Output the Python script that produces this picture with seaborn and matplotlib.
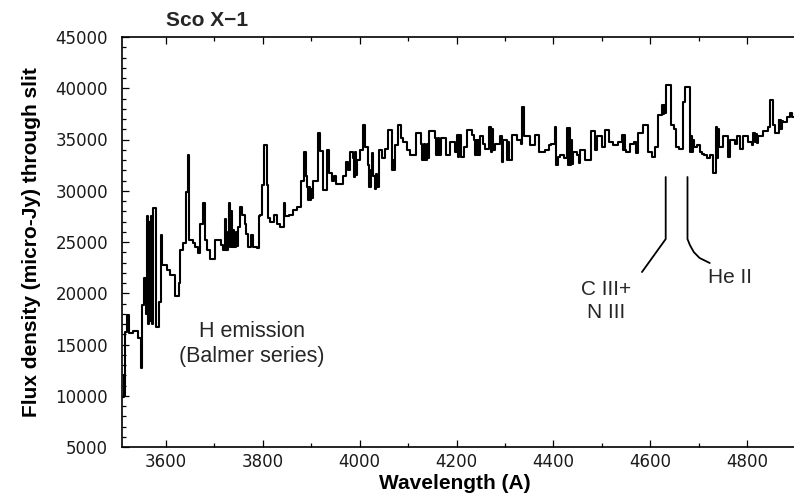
import matplotlib
matplotlib.use("Agg")
import matplotlib.pyplot as plt
import pandas as pd
import seaborn as sns
from matplotlib.ticker import MultipleLocator

# Sco X-1 optical spectrum: left edge of each wavelength bin (Angstrom) and flux (micro-Jy)
wavelength = [
    3512, 3513, 3514, 3516, 3520, 3524, 3532, 3543, 3548, 3551, 3555, 3558,
    3560, 3562, 3564, 3566, 3568, 3570, 3572, 3574, 3580, 3586, 3589, 3591,
    3601, 3608, 3618, 3626, 3629, 3636, 3641, 3645, 3648, 3656, 3660, 3665,
    3671, 3677, 3680, 3684, 3690, 3702, 3713, 3717, 3721, 3724, 3727, 3730,
    3732, 3734, 3736, 3738, 3741, 3744, 3746, 3749, 3752, 3757, 3763, 3765,
    3770, 3775, 3780, 3787, 3791, 3795, 3798, 3803, 3808, 3811, 3815, 3822,
    3829, 3836, 3843, 3846, 3853, 3863, 3870, 3879, 3884, 3889, 3892, 3894,
    3896, 3898, 3900, 3902, 3904, 3913, 3917, 3924, 3932, 3937, 3942, 3946,
    3952, 3966, 3971, 3975, 3979, 3986, 3988, 3990, 3992, 3995, 4001, 4007,
    4011, 4018, 4020, 4023, 4025, 4028, 4031, 4033, 4036, 4039, 4045, 4052,
    4058, 4066, 4069, 4071, 4073, 4079, 4085, 4090, 4097, 4104, 4117, 4126,
    4129, 4132, 4135, 4138, 4141, 4144, 4155, 4158, 4161, 4164, 4167, 4178,
    4187, 4197, 4201, 4204, 4206, 4209, 4215, 4222, 4231, 4236, 4238, 4240,
    4242, 4244, 4246, 4249, 4255, 4259, 4268, 4271, 4273, 4276, 4279, 4290,
    4293, 4295, 4304, 4307, 4309, 4314, 4325, 4333, 4336, 4340, 4352, 4362,
    4370, 4383, 4390, 4396, 4403, 4406, 4410, 4414, 4421, 4428, 4430, 4432,
    4434, 4436, 4438, 4441, 4448, 4452, 4456, 4466, 4477, 4487, 4490, 4500,
    4507, 4514, 4524, 4534, 4541, 4544, 4546, 4548, 4551, 4558, 4566, 4570,
    4575, 4586, 4596, 4603, 4610, 4616, 4624, 4626, 4628, 4630, 4633, 4642,
    4649, 4654, 4660, 4668, 4672, 4682, 4684, 4686, 4688, 4690, 4696, 4703,
    4706, 4712, 4717, 4724, 4729, 4735, 4737, 4739, 4742, 4751, 4761, 4764,
    4775, 4780, 4785, 4792, 4803, 4810, 4813, 4816, 4818, 4820, 4823, 4834,
    4844, 4847, 4853, 4858, 4865, 4867, 4869, 4871, 4873, 4875, 4882, 4889,
    4893,
]
flux = [
    9900, 12000, 10000, 16250, 17900, 16100, 16300, 15600, 12700, 18850, 21500, 18000,
    27500, 17000, 27000, 17300, 27500, 17000, 26800, 28300, 16700, 19100, 25700, 22800,
    22300, 21800, 19700, 21000, 24200, 24900, 29900, 33500, 25200, 24900, 24550, 23900,
    26800, 28800, 25200, 24200, 23300, 25200, 24700, 24200, 27200, 24200, 26000, 28800,
    24500, 28000, 24500, 26200, 24500, 26000, 24600, 26500, 28400, 27600, 26800, 25800,
    24500, 25700, 24500, 24400, 27500, 27600, 30600, 34500, 30600, 27300, 27000, 27600,
    26800, 26500, 28800, 27500, 27600, 28100, 28400, 31000, 33800, 31400, 30400, 29100,
    30400, 29100, 30200, 29300, 31000, 35600, 33900, 30100, 34000, 31700, 31000, 31400,
    30700, 31400, 32800, 32000, 33800, 33200, 31300, 33800, 31500, 33000, 34000, 36400,
    34300, 32500, 30400, 32000, 33700, 31400, 30200, 31600, 30400, 34000, 33200, 34100,
    35900, 32000, 33000, 32000, 34500, 36400, 35100, 34800, 34000, 33500, 35600, 34600,
    33000, 34600, 33000, 34600, 33200, 35800, 35100, 33500, 35100, 33500, 35100, 33500,
    34800, 33800, 35400, 33300, 35400, 33300, 34300, 35900, 35400, 34950, 33500, 34950,
    33500, 34950, 33500, 35300, 34600, 34100, 36250, 33800, 36000, 34000, 34600, 35300,
    32800, 34950, 33000, 34800, 33000, 35400, 34950, 34600, 38200, 35300, 34500, 35400,
    33800, 34000, 34500, 34600, 36250, 32500, 33300, 33500, 33200, 36100, 32500, 36100,
    32500, 35000, 32600, 33800, 33500, 32700, 34000, 33000, 35800, 34000, 35300, 34300,
    35900, 34800, 34500, 34800, 35400, 34000, 35400, 34000, 33800, 34600, 34800, 33700,
    35600, 36400, 33800, 33300, 34300, 37400, 38400, 37500, 38400, 37600, 40300, 36400,
    36000, 34300, 34100, 38700, 40100, 33800, 35300, 33800, 35000, 34300, 34500, 33800,
    33600, 33500, 33200, 33500, 31700, 36250, 33200, 36000, 34300, 35300, 33300, 34950,
    34600, 35300, 34100, 35300, 34800, 34500, 35600, 34800, 35500, 34700, 35300, 35800,
    36250, 38850, 36400, 35600, 36900, 36000, 36900, 36000, 36800, 36700, 37200, 37550,
    37200,
]
wavelength_end = 4900

# Line identifications: marker wavelengths and the flux levels of the leader lines
cn_marker_wave = [4632, 4632, 4583]
cn_marker_flux = [31340, 25290, 22070]
he_marker_wave = [4677, 4677, 4682, 4690, 4702, 4723]
he_marker_flux = [31340, 25290, 24700, 24020, 23440, 22950]

x_ticks = [3600, 3800, 4000, 4200, 4400, 4600, 4800]
y_ticks = [5000, 10000, 15000, 20000, 25000, 30000, 35000, 40000, 45000]

sns.set_theme(style="ticks")
plt.rcParams["font.family"] = ["DejaVu Sans"]
label_font = ["Liberation Sans", "DejaVu Sans"]

fig = plt.figure(figsize=(7.94, 4.99), dpi=100)
ax = fig.add_axes([122 / 794, 1 - 447 / 499, 1 - 122 / 794, 410 / 499])

spec = pd.DataFrame({
    "wavelength": wavelength + [wavelength_end],
    "flux": flux + [flux[-1]],
})
sns.lineplot(data=spec, x="wavelength", y="flux", drawstyle="steps-post",
             estimator=None, color="black", linewidth=1.5, ax=ax)

# leader lines pointing at the two emission features
sns.lineplot(x=cn_marker_wave, y=cn_marker_flux, sort=False, estimator=None,
             color="black", linewidth=1.3, ax=ax)
sns.lineplot(x=he_marker_wave, y=he_marker_flux, sort=False, estimator=None,
             color="black", linewidth=1.3, ax=ax)

ax.set_xlim(3509, 4897)
ax.set_ylim(5000, 45000)
ax.set_xticks(x_ticks)
ax.set_yticks(y_ticks)
ax.xaxis.set_minor_locator(MultipleLocator(100))
ax.yaxis.set_minor_locator(MultipleLocator(1000))
ax.tick_params(which="both", direction="in", top=True, right=False,
               width=0.9, color="black")
ax.tick_params(which="major", length=5)
ax.tick_params(which="minor", length=3)
ax.tick_params(axis="y", labelsize=12, labelcolor="#1a1a1a", pad=10)
ax.tick_params(axis="x", labelsize=12, labelcolor="#1a1a1a", pad=4)
for side in ["left", "bottom", "top"]:
    ax.spines[side].set_color("black")
    ax.spines[side].set_linewidth(1.2)
ax.spines["right"].set_visible(False)

ax.set_xlabel("Wavelength (A)", family=label_font, fontsize=15,
              fontweight="bold", color="black")
ax.set_ylabel("Flux density (micro-Jy) through slit", family=label_font,
              fontsize=15, fontweight="bold", color="black")
ax.xaxis.set_label_coords(0.4955, -0.065)
ax.yaxis.set_label_coords(-0.1205, 0.5)

fig.text(207 / 794, 1 - 21 / 499, "Sco X\u22121", family=label_font,
         fontsize=15, fontweight="bold", ha="center", va="center")

ax.text(3778, 15050, "H emission\n(Balmer series)", family=label_font,
        fontsize=15.5, ha="center", va="center", linespacing=1.3)
ax.text(4509, 19240, "C III+\nN III", family=label_font, fontsize=15,
        ha="center", va="center", linespacing=1.3)
ax.text(4765, 21490, "He II", family=label_font, fontsize=15,
        ha="center", va="center")

fig.savefig("out.png", dpi=100)
